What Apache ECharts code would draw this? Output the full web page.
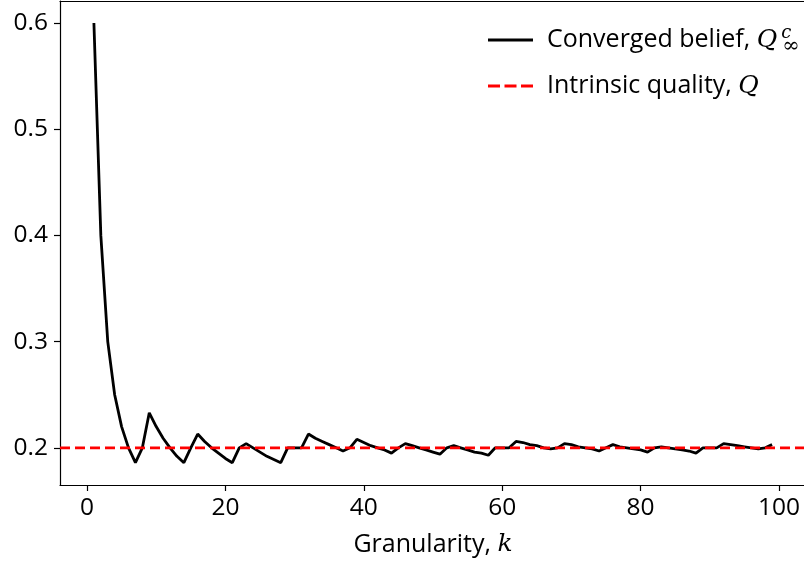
<!DOCTYPE html>
<html>
<head>
<meta charset="utf-8">
<script src="https://cdn.jsdelivr.net/npm/echarts@6/dist/echarts.min.js"></script>
<style>
  html, body { margin: 0; padding: 0; background: #fff; }
  #visualisation { width: 804px; height: 562px; }
</style>
</head>
<body>
<div id="visualisation"></div>
<script>
// Converged belief per granularity k = 1..99
const belief = [
  0.6, 0.4, 0.3, 0.25, 0.22, 0.2, 0.186, 0.2, 0.233, 0.22,
  0.209, 0.2, 0.192, 0.186, 0.2, 0.213, 0.206, 0.2, 0.195, 0.19,
  0.186, 0.2, 0.204, 0.2, 0.196, 0.192, 0.189, 0.186, 0.2, 0.2,
  0.2, 0.213, 0.209, 0.206, 0.203, 0.2, 0.197, 0.2, 0.208, 0.205,
  0.202, 0.2, 0.198, 0.195, 0.2, 0.204, 0.202, 0.2, 0.198, 0.196,
  0.194, 0.2, 0.202, 0.2, 0.198, 0.196, 0.195, 0.193, 0.2, 0.2,
  0.2, 0.206, 0.205, 0.203, 0.202, 0.2, 0.199, 0.2, 0.204, 0.203,
  0.201, 0.2, 0.199, 0.197, 0.2, 0.203, 0.201, 0.2, 0.199, 0.198,
  0.196, 0.2, 0.201, 0.2, 0.199, 0.198, 0.197, 0.195, 0.2, 0.2,
  0.2, 0.204, 0.203, 0.202, 0.201, 0.2, 0.199, 0.2, 0.203
];
const firstK = 1;
const intrinsicQuality = 0.2;

const xTicks = [0, 20, 40, 60, 80, 100];
const yTicks = [0.2, 0.3, 0.4, 0.5, 0.6];
const xLimits = [-3.9, 103.9];
const yLimits = [0.165, 0.6207];

const seriesNames = ['Converged belief', 'Intrinsic quality'];

function drawVisualisation() {
  let visualisation = echarts.init(document.getElementById('visualisation'));

  const beliefData = belief.map((v, i) => [firstK + i, v]);
  const qualityData = xLimits.map(x => [x, intrinsicQuality]);

  const font = 'Open Sans';
  const mathFont = 'DejaVu Serif';
  const tickSize = 24.5;
  const legendSize = 25;

  // legend icons drawn as a solid bar and three dashes
  const solidIcon = 'path://M0,0h45v3h-45z';
  const dashIcon = 'path://M0,0h12v3h-12z M16.5,0h12v3h-12z M33,0h12v3h-12z';

  const axisLineStyle = { color: '#000', width: 1.2 };

  let option = {
    animation: false,
    textStyle: { fontFamily: font, color: '#000' },
    grid: {
      left: 60, top: 1, width: 746, height: 484,
      containLabel: false,
      outerBoundsMode: 'none'
    },
    legend: {
      orient: 'vertical',
      left: 483, top: 19,
      itemWidth: 45, itemHeight: 3, itemGap: 14,
      data: [
        { name: seriesNames[0], icon: solidIcon },
        { name: seriesNames[1], icon: dashIcon }
      ],
      itemStyle: { borderWidth: 0 },
      formatter: name => name === seriesNames[0]
        ? 'Converged belief, {m|Q}{sup|c}{sub|∞}'
        : 'Intrinsic quality, {m|Q}',
      textStyle: {
        fontFamily: font, fontSize: legendSize, color: '#000', lineHeight: 29,
        padding: [0, 0, 0, 9],
        rich: {
          m: { fontFamily: mathFont, fontStyle: 'italic', fontSize: legendSize, lineHeight: 29 },
          sup: { fontFamily: mathFont, fontStyle: 'italic', fontSize: 18, width: 1, align: 'left', padding: [0, 0, 14, 4] },
          sub: { fontFamily: mathFont, fontSize: 21, padding: [14, 0, 0, 0] }
        }
      }
    },
    xAxis: [
      {
        type: 'value',
        min: xLimits[0], max: xLimits[1],
        name: 'Granularity, {m|k}',
        nameLocation: 'middle', nameGap: 47,
        nameTextStyle: {
          fontFamily: font, fontSize: 25, color: '#000',
          rich: { m: { fontFamily: mathFont, fontStyle: 'italic', fontSize: 25 } }
        },
        splitLine: { show: false },
        axisLine: { onZero: false, lineStyle: axisLineStyle },
        axisTick: { customValues: xTicks, length: 6, lineStyle: axisLineStyle },
        axisLabel: { customValues: xTicks, margin: 11, fontSize: tickSize, color: '#000', fontFamily: font }
      },
      {
        // top spine
        type: 'value', position: 'top',
        min: xLimits[0], max: xLimits[1],
        splitLine: { show: false },
        axisLine: { show: true, onZero: false, lineStyle: axisLineStyle },
        axisTick: { show: false },
        axisLabel: { show: false }
      }
    ],
    yAxis: {
      type: 'value',
      min: yLimits[0], max: yLimits[1],
      splitLine: { show: false },
      axisLine: { show: true, onZero: false, lineStyle: axisLineStyle },
      axisTick: { show: true, customValues: yTicks, length: 6, lineStyle: axisLineStyle },
      axisLabel: {
        customValues: yTicks, margin: 12, fontSize: tickSize, color: '#000', fontFamily: font,
        formatter: v => v.toFixed(1)
      }
    },
    series: [
      {
        name: seriesNames[0],
        type: 'line',
        data: beliefData,
        symbol: 'none',
        lineStyle: { color: '#000', width: 2.8 },
        itemStyle: { color: '#000' },
        z: 3
      },
      {
        name: seriesNames[1],
        type: 'line',
        data: qualityData,
        symbol: 'none',
        lineStyle: { color: '#ff0000', width: 2.8, type: [10, 5] },
        itemStyle: { color: '#ff0000' },
        z: 4
      }
    ]
  };

  visualisation.setOption(option);
}

window.addEventListener('load', drawVisualisation);
</script>
</body>
</html>
